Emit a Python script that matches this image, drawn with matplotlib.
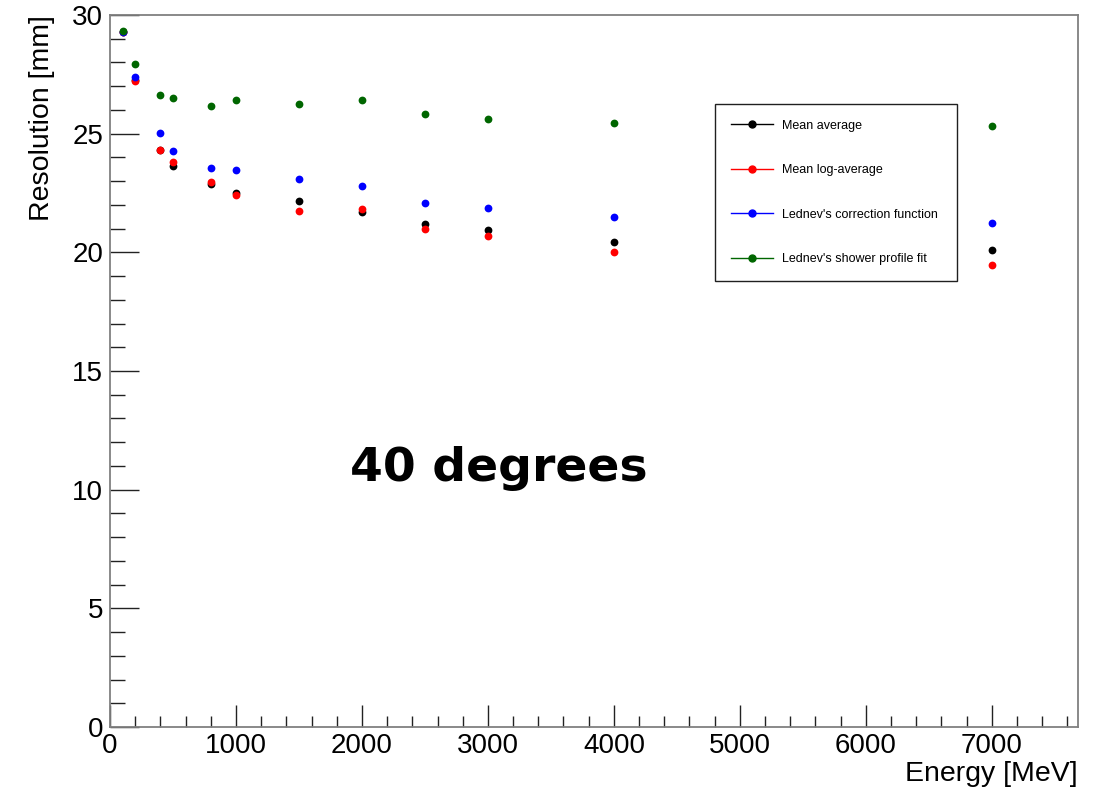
import numpy as np
import matplotlib
matplotlib.use("Agg")
import matplotlib.pyplot as plt
from matplotlib.ticker import MultipleLocator

# Energies [MeV]
energy = [100, 200, 400, 500, 800, 1000, 1500, 2000, 2500, 3000, 4000, 7000]

# Resolution [mm] per reconstruction method
mean_avg = [29.3, 27.25, 24.3, 23.64, 22.87, 22.49, 22.18, 21.69, 21.18, 20.94, 20.45, 20.11]
mean_log_avg = [29.3, 27.22, 24.32, 23.81, 22.95, 22.40, 21.73, 21.83, 20.98, 20.70, 20.00, 19.46]
lednev_corr = [29.3, 27.40, 25.02, 24.29, 23.54, 23.46, 23.09, 22.78, 22.08, 21.86, 21.48, 21.25]
lednev_fit = [29.31, 27.95, 26.65, 26.50, 26.15, 26.43, 26.23, 26.43, 25.85, 25.60, 25.47, 25.33]

series = [
    ("Mean average", mean_avg, "black"),
    ("Mean log-average", mean_log_avg, "#ff0000"),
    ("Lednev's correction function", lednev_corr, "#0000ff"),
    ("Lednev's shower profile fit", lednev_fit, "#006600"),
]

plt.rcParams['font.family'] = ['Liberation Sans', 'DejaVu Sans']

fig = plt.figure(figsize=(10.95, 7.9), dpi=100)
ax = fig.add_axes([0.1005, 0.0797, 0.884, 0.9013])

for label, vals, col in series:
    ax.plot(energy, vals, linestyle='none', marker='o', markersize=5.6,
            color=col, markeredgewidth=0)
    # legend proxy: ROOT style line + marker
    ax.plot([], [], linestyle='-', linewidth=1, marker='o', markersize=5,
            color=col, label=label)

ax.set_xlim(0, 7685)
ax.set_ylim(0, 30)

ax.xaxis.set_major_locator(MultipleLocator(1000))
ax.xaxis.set_minor_locator(MultipleLocator(200))
ax.yaxis.set_major_locator(MultipleLocator(5))
ax.yaxis.set_minor_locator(MultipleLocator(1))

ax.tick_params(axis='x', which='major', direction='in', length=15.8, width=1,
               labelsize=20, pad=4, color='#222222')
ax.tick_params(axis='x', which='minor', direction='in', length=7.9, width=1,
               color='#222222')
ax.tick_params(axis='y', which='major', direction='in', length=20.9, width=1,
               labelsize=20, pad=5, color='#222222')
ax.tick_params(axis='y', which='minor', direction='in', length=10.8, width=1,
               color='#222222')

for sp in ax.spines.values():
    sp.set_color('#808080')
    sp.set_linewidth(1.3)

ax.set_xlabel("Energy [MeV]", fontsize=20.5, loc='right', labelpad=2)
ax.set_ylabel("Resolution [mm]", fontsize=20.5, loc='top', labelpad=12)

ax.text(1905, 10.38, "40 degrees", fontsize=34, fontweight='bold',
        family='DejaVu Sans', ha='left', va='baseline')

leg = ax.legend(loc='upper left', bbox_to_anchor=(0.625, 0.625, 0.25, 0.25),
                mode='expand', fontsize=9, frameon=True, fancybox=False,
                borderpad=1.25, labelspacing=2.6, handlelength=3.4,
                handletextpad=0.7, borderaxespad=0, framealpha=1)
leg.get_frame().set_edgecolor('#202020')
leg.get_frame().set_linewidth(1)

fig.savefig("out.png", dpi=100)
